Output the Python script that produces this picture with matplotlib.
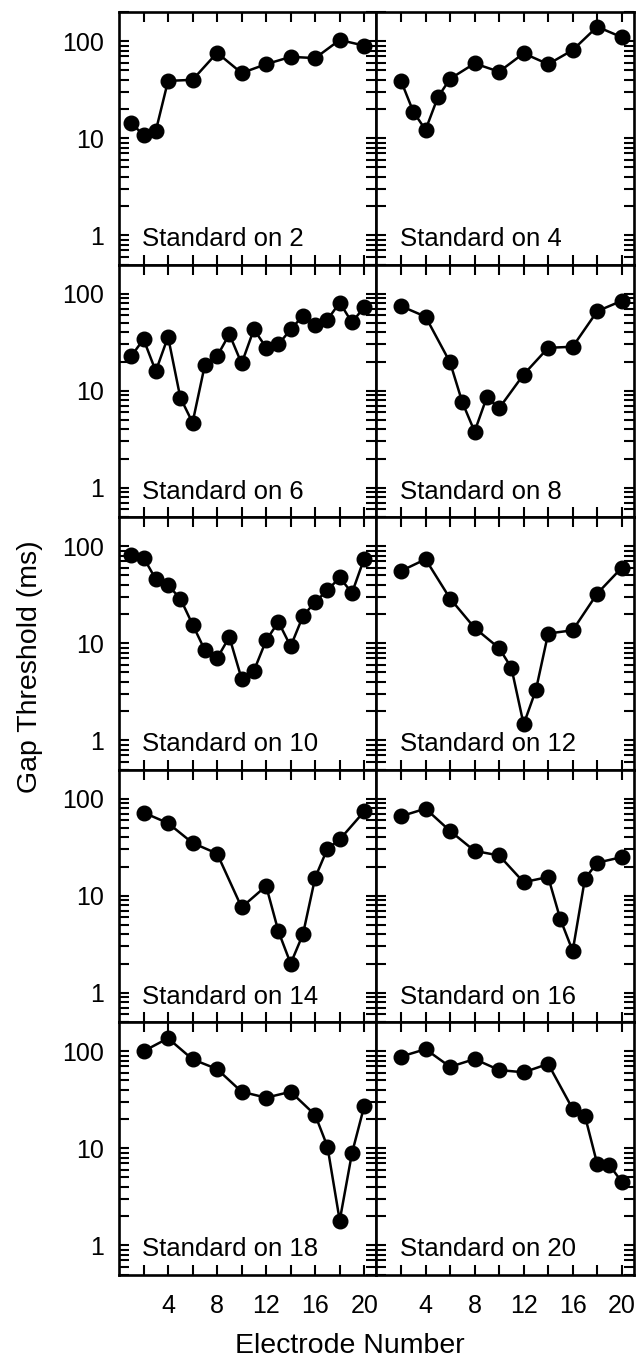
import numpy as np
import matplotlib.pyplot as plt
from matplotlib.ticker import FixedLocator, NullFormatter

plt.rcParams['font.family'] = ['Liberation Sans', 'DejaVu Sans']

# standard electrode of each panel, in reading order
standards = [2, 4, 6, 8, 10, 12, 14, 16, 18, 20]

# electrode numbers of each panel
el_2 = [1, 2, 3, 4, 6, 8, 10, 12, 14, 16, 18, 20]
el_4 = [2, 3, 4, 5, 6, 8, 10, 12, 14, 16, 18, 20]
el_6 = list(range(1, 21))
el_8 = [2, 4, 6, 7, 8, 9, 10, 12, 14, 16, 18, 20]
el_10 = list(range(1, 21))
el_12 = [2, 4, 6, 8, 10, 11, 12, 13, 14, 16, 18, 20]
el_14 = [2, 4, 6, 8, 10, 12, 13, 14, 15, 16, 17, 18, 20]
el_16 = [2, 4, 6, 8, 10, 12, 14, 15, 16, 17, 18, 20]
el_18 = [2, 4, 6, 8, 10, 12, 14, 16, 17, 18, 19, 20]
el_20 = [2, 4, 6, 8, 10, 12, 14, 16, 17, 18, 19, 20]

# gap thresholds (ms)
gap_2 = [14.3, 10.8, 11.9, 39, 40, 76, 47, 58, 69, 67, 103, 90]
gap_4 = [39, 18.8, 12.2, 26.4, 41, 59, 48.5, 75, 58, 81, 141, 110]
gap_6 = [22.7, 34, 15.9, 36, 8.5, 4.7, 18.4, 22.7, 38.3, 19.1,
         42.9, 27.9, 30, 42.9, 59, 47.5, 54, 81, 50.6, 73]
gap_8 = [74.5, 58, 19.6, 7.6, 3.8, 8.6, 6.6, 14.7, 27.7, 28.4, 66, 84.5]
gap_10 = [80.7, 76.4, 45.7, 39.6, 28.9, 15.6, 8.5, 7.0, 11.6, 4.3,
          5.2, 10.7, 16.6, 9.3, 19.0, 26.7, 35.2, 47.6, 33.0, 74.7]
gap_12 = [55.6, 73.4, 28.9, 14.4, 8.9, 5.6, 1.46, 3.3, 12.6, 13.6, 32.5, 60]
gap_14 = [72, 56, 35, 27.2, 7.6, 12.6, 4.3, 2.0, 4.0, 15.4, 30.6, 38, 74]
gap_16 = [66, 79, 46.5, 29, 26, 13.8, 15.6, 5.7, 2.7, 15.0, 21.9, 25]
gap_18 = [100, 136, 82.5, 65.5, 38.2, 33.2, 38.2, 22, 10.4, 1.8, 8.9, 27.2]
gap_20 = [88, 105, 69, 83, 64, 60.6, 74, 25.4, 21.5, 6.9, 6.7, 4.5]

electrodes = [el_2, el_4, el_6, el_8, el_10, el_12, el_14, el_16, el_18, el_20]
gaps = [gap_2, gap_4, gap_6, gap_8, gap_10, gap_12, gap_14, gap_16, gap_18, gap_20]

W, H = 636, 1367
fig, axes = plt.subplots(5, 2, figsize=(W / 100, H / 100), dpi=100,
                         sharex=True, sharey=True)
fig.subplots_adjust(left=119 / W, right=634 / W, top=1 - 12 / H,
                    bottom=1 - 1274.5 / H, hspace=0, wspace=0)

for i, ax in enumerate(axes.flat):
    ax.plot(electrodes[i], gaps[i], '-o', color='black', lw=1.8,
            markersize=10.5, clip_on=False, zorder=3)
    ax.set_yscale('log')
    ax.set_ylim(0.5, 200)
    ax.set_xlim(0, 21)
    ax.text(0.09, 0.073, 'Standard on %d' % standards[i], transform=ax.transAxes,
            fontsize=18.5, va='baseline', ha='left')

    ax.xaxis.set_major_locator(FixedLocator([4, 8, 12, 16, 20]))
    ax.xaxis.set_minor_locator(FixedLocator([2, 6, 10, 14, 18]))
    ax.xaxis.set_minor_formatter(NullFormatter())
    ax.yaxis.set_major_locator(FixedLocator([1, 10, 100]))
    ax.yaxis.set_minor_locator(FixedLocator(
        [m * 10.0 ** k for k in (-1, 0, 1, 2) for m in range(2, 10)]))
    ax.yaxis.set_minor_formatter(NullFormatter())
    ax.set_yticklabels(['1', '10', '100'])

    ax.tick_params(which='both', direction='in', top=True, right=True,
                   length=7, width=1.5, labelsize=18, pad=11)
    ax.tick_params(axis='x', pad=14)
    for s in ax.spines.values():
        s.set_linewidth(1.9)

fig.text(350 / W, 1 - 1346 / H, 'Electrode Number', fontsize=20.5,
         ha='center', va='center')
fig.text(30 / W, 1 - 667 / H, 'Gap Threshold (ms)', fontsize=20.5,
         ha='center', va='center', rotation=90)

plt.savefig('out.png', dpi=100)
